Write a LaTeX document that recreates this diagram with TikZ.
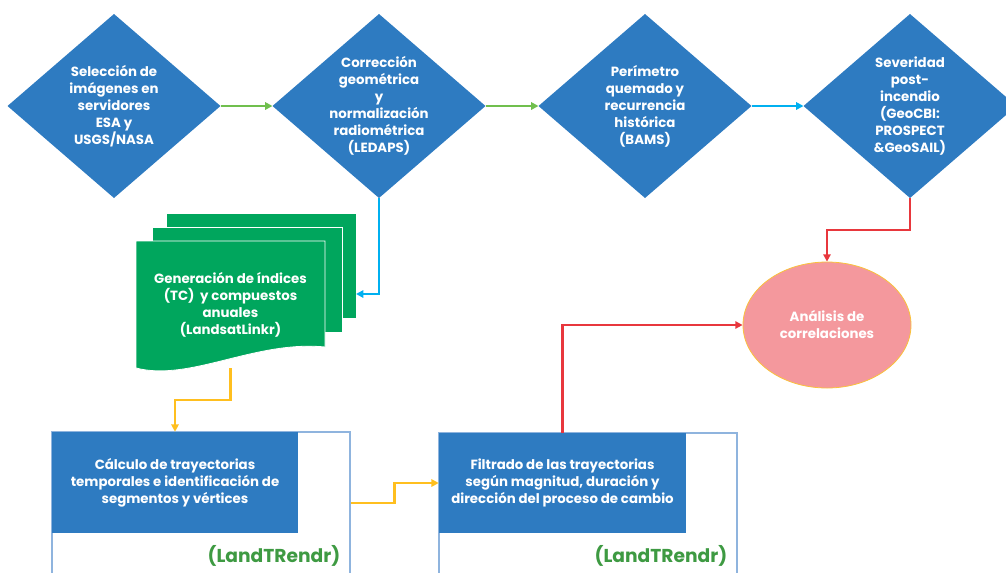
\documentclass[tikz,border=0pt]{standalone}
\usepackage{fontspec}
\setmainfont{Poppins}
\usetikzlibrary{shapes.geometric,arrows.meta,calc}
\definecolor{pasoblue}{HTML}{2E7BC1}
\definecolor{docgreen}{HTML}{00A65D}
\definecolor{flowgreen}{HTML}{70BF4E}
\definecolor{flowcyan}{HTML}{00B0F0}
\definecolor{flowred}{HTML}{E8373D}
\definecolor{flowyellow}{HTML}{FFBF1F}
\definecolor{corrpink}{HTML}{F4989D}
\definecolor{corrborder}{HTML}{F9C23C}
\definecolor{ltgreen}{HTML}{3E9A42}
\definecolor{frameblue}{HTML}{8FB4DE}
\newcommand*\txtfont{\bfseries\fontsize{10}{12.75}\selectfont}
\tikzset{
    paso/.style     = {diamond, fill=pasoblue, inner sep=0pt, outer sep=0pt,
                       minimum width=159.75pt, minimum height=138pt},
    pasotxt/.style  = {text=white, font=\txtfont, align=center, inner sep=0pt},
    page/.style     = {rectangle, fill=docgreen, draw=white, line width=0.6pt,
                       minimum width=142.5pt, minimum height=78.75pt},
    doctxt/.style   = {pasotxt, minimum width=141.75pt, minimum height=95.25pt},
    corr/.style     = {ellipse, fill=corrpink, draw=corrborder, line width=0.6pt,
                       text=white, font=\txtfont, align=center, inner sep=0pt,
                       minimum width=126pt, minimum height=94.5pt},
    frame/.style    = {rectangle, draw=frameblue, line width=0.8pt, fill=white,
                       minimum width=223.5pt},
    caja/.style     = {rectangle, fill=pasoblue, text=white, font=\txtfont,
                       align=center, inner sep=0pt},
    lt/.style       = {text=ltgreen, font=\bfseries\fontsize{14}{16}\selectfont,
                       inner sep=0pt},
    flow/.style     = {line width=1.8pt, -{Triangle[length=5.5pt,width=5.5pt]}},
    greenflow/.style  = {flow, draw=flowgreen},
    cyanflow/.style   = {flow, draw=flowcyan},
    redflow/.style    = {flow, draw=flowred},
    yellowflow/.style = {flow, draw=flowyellow},
  }

\begin{document}
\begin{tikzpicture}[x=0.75pt, y=-0.75pt]
      \useasboundingbox (0,0) rectangle (1006,572);

      % Top row: the four steps as diamonds
      \node[paso] (d1) at (114,106) {};
      \node[paso] (d2) at (379,106) {};
      \node[paso] (d3) at (645,106) {};
      \node[paso] (d4) at (910,106) {};
      \node[pasotxt] (d1t) at (d1) {Selección de\\imágenes en\\servidores\\ESA y\\USGS/NASA};
      \node[pasotxt] (d2t) at (d2) {Corrección\\geométrica\\y\\normalización\\radiométrica\\(LEDAPS)};
      \node[pasotxt] (d3t) at (d3) {Perímetro\\quemado y\\recurrencia\\histórica\\(BAMS)};
      \node[pasotxt] (d4t) at (d4) {Severidad\\post-\\incendio\\(GeoCBI:\\PROSPECT\\\&GeoSAIL)};

      % Stacked pages behind the index document
      \foreach \p/\x/\y in {page3/261/266, page2/247/280} {
        \node[page] (\p) at (\x,\y) {};
      }

      % Front page with wavy bottom
      \filldraw[fill=docgreen, draw=white, line width=0.6pt]
        (136,241) -- (325,241) -- (325,347)
        .. controls (255,340) and (190,382) .. (136,368) -- cycle;
      \node[doctxt] (gen) at (230.5,304.5)
        {Generación de índices\\(TC)\ \ y compuestos\\anuales\\(LandsatLinkr)};

      % Correlation analysis
      \node[corr] (corr) at (827,325) {Análisis de\\correlaciones};

      % Bottom row: LandTRendr frames with their blue boxes
      \node[frame, minimum height=106.5pt] (frame1) at (201,503) {};
      \node[frame, minimum height=105.75pt] (frame2) at (588,503.5) {};
      \node[caja, minimum width=184.5pt, minimum height=75.75pt] (calc1) at (175,482.5)
        {Cálculo de trayectorias\\temporales e identificación de\\segmentos y vértices};
      \node[caja, minimum width=185.25pt, minimum height=75pt] (filt) at (562.5,483)
        {Filtrado de las trayectorias\\según magnitud, duración y\\dirección del proceso de cambio};
      \node[lt, anchor=base east] (lt1) at ($(frame1.south east)+(-10,-12)$) {(LandTRendr)};
      \node[lt, anchor=base east] (lt2) at ($(frame2.south east)+(-10,-12)$) {(LandTRendr)};

      % Connectors
      \draw[greenflow] (d1.east) -- (d2.west);
      \draw[greenflow] (d2.east) -- (d3.west);
      \draw[cyanflow] (d3.east) -- (d4.west);
      \coordinate (genin) at (356,294);
      \draw[cyanflow] (d2.south) |- (genin);
      \draw[yellowflow] (gen.south) -- ($(gen.south)!.5!(gen.south |- calc1.north)$) -| (calc1.north);
      \draw[yellowflow] (frame1.east) -- ($(frame1.east)!.5!(filt.west |- frame1.east)$) |- (filt.west);
      \draw[redflow] (filt.north) |- (corr.west);
      \draw[redflow] (d4.south) -- ($(d4.south)!.5!(d4.south |- corr.north)$) -| (corr.north);
    \end{tikzpicture}
\end{document}
